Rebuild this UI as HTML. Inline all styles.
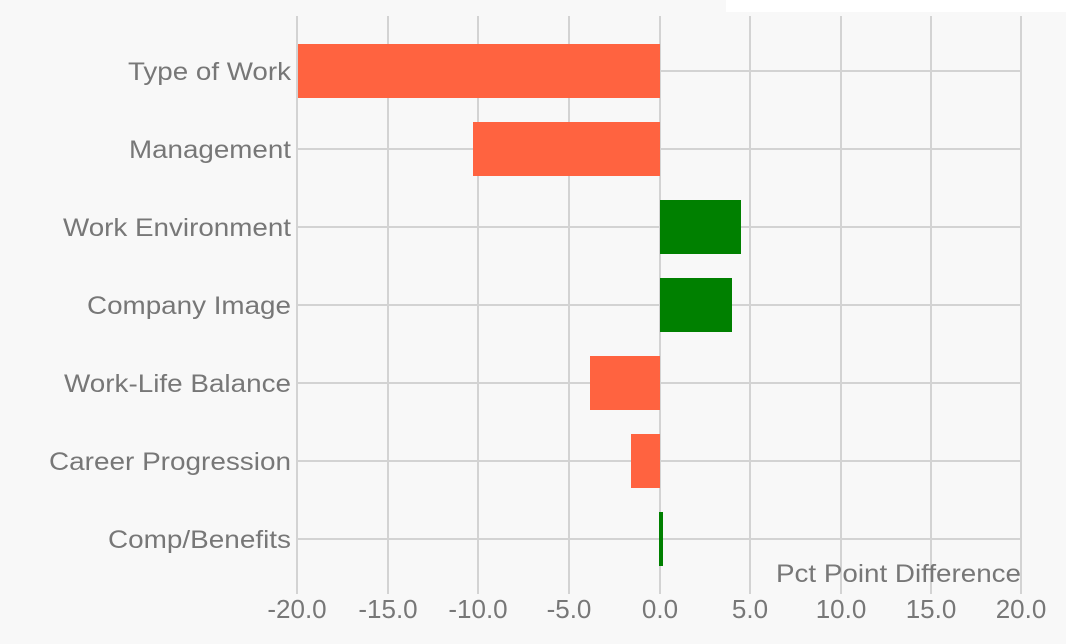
<!DOCTYPE html><html><head><style>body{margin:0;background:#f8f8f8}</style></head><body>
<svg width="1066" height="644" xmlns="http://www.w3.org/2000/svg" style="display:block;font-family:'Liberation Sans',sans-serif">
<rect width="1066" height="644" fill="#f8f8f8"/>
<rect x="726" y="0" width="340" height="12" fill="#fff"/>
<g stroke="#d3d3d3" stroke-width="2">
<line x1="297" y1="16" x2="297" y2="594"/><line x1="388" y1="16" x2="388" y2="594"/><line x1="478" y1="16" x2="478" y2="594"/><line x1="569" y1="16" x2="569" y2="594"/><line x1="660" y1="16" x2="660" y2="594"/><line x1="750" y1="16" x2="750" y2="594"/><line x1="841" y1="16" x2="841" y2="594"/><line x1="931" y1="16" x2="931" y2="594"/><line x1="1021" y1="16" x2="1021" y2="594"/>
<line x1="297" y1="71" x2="1022" y2="71"/><line x1="297" y1="149" x2="1022" y2="149"/><line x1="297" y1="227" x2="1022" y2="227"/><line x1="297" y1="305" x2="1022" y2="305"/><line x1="297" y1="383" x2="1022" y2="383"/><line x1="297" y1="461" x2="1022" y2="461"/><line x1="297" y1="539" x2="1022" y2="539"/>
</g>
<g fill="#ff6340">
<rect x="298" y="44" width="362" height="54"/><rect x="473" y="122" width="187" height="54"/><rect x="590" y="356" width="70" height="54"/><rect x="631" y="434" width="29" height="54"/>
</g>
<g fill="#008000">
<rect x="660" y="200" width="81" height="54"/><rect x="660" y="278" width="72" height="54"/><rect x="659" y="512" width="4" height="54"/>
</g>
<g fill="#777" font-size="25" text-anchor="end" lengthAdjust="spacingAndGlyphs">
<text x="291" y="80" textLength="163" lengthAdjust="spacingAndGlyphs">Type of Work</text>
<text x="291" y="158" textLength="162" lengthAdjust="spacingAndGlyphs">Management</text>
<text x="291" y="236" textLength="228" lengthAdjust="spacingAndGlyphs">Work Environment</text>
<text x="291" y="314" textLength="204" lengthAdjust="spacingAndGlyphs">Company Image</text>
<text x="291" y="392" textLength="227" lengthAdjust="spacingAndGlyphs">Work-Life Balance</text>
<text x="291" y="470" textLength="242" lengthAdjust="spacingAndGlyphs">Career Progression</text>
<text x="291" y="548" textLength="183" lengthAdjust="spacingAndGlyphs">Comp/Benefits</text>
<text x="1021" y="582" textLength="245" lengthAdjust="spacingAndGlyphs">Pct Point Difference</text>
</g>
<g fill="#777" font-size="26" text-anchor="middle">
<text x="297" y="618">-20.0</text><text x="388" y="618">-15.0</text><text x="478" y="618">-10.0</text><text x="569" y="618">-5.0</text><text x="660" y="618">0.0</text><text x="750" y="618">5.0</text><text x="841" y="618">10.0</text><text x="931" y="618">15.0</text><text x="1021" y="618">20.0</text>
</g>
</svg></body></html>
